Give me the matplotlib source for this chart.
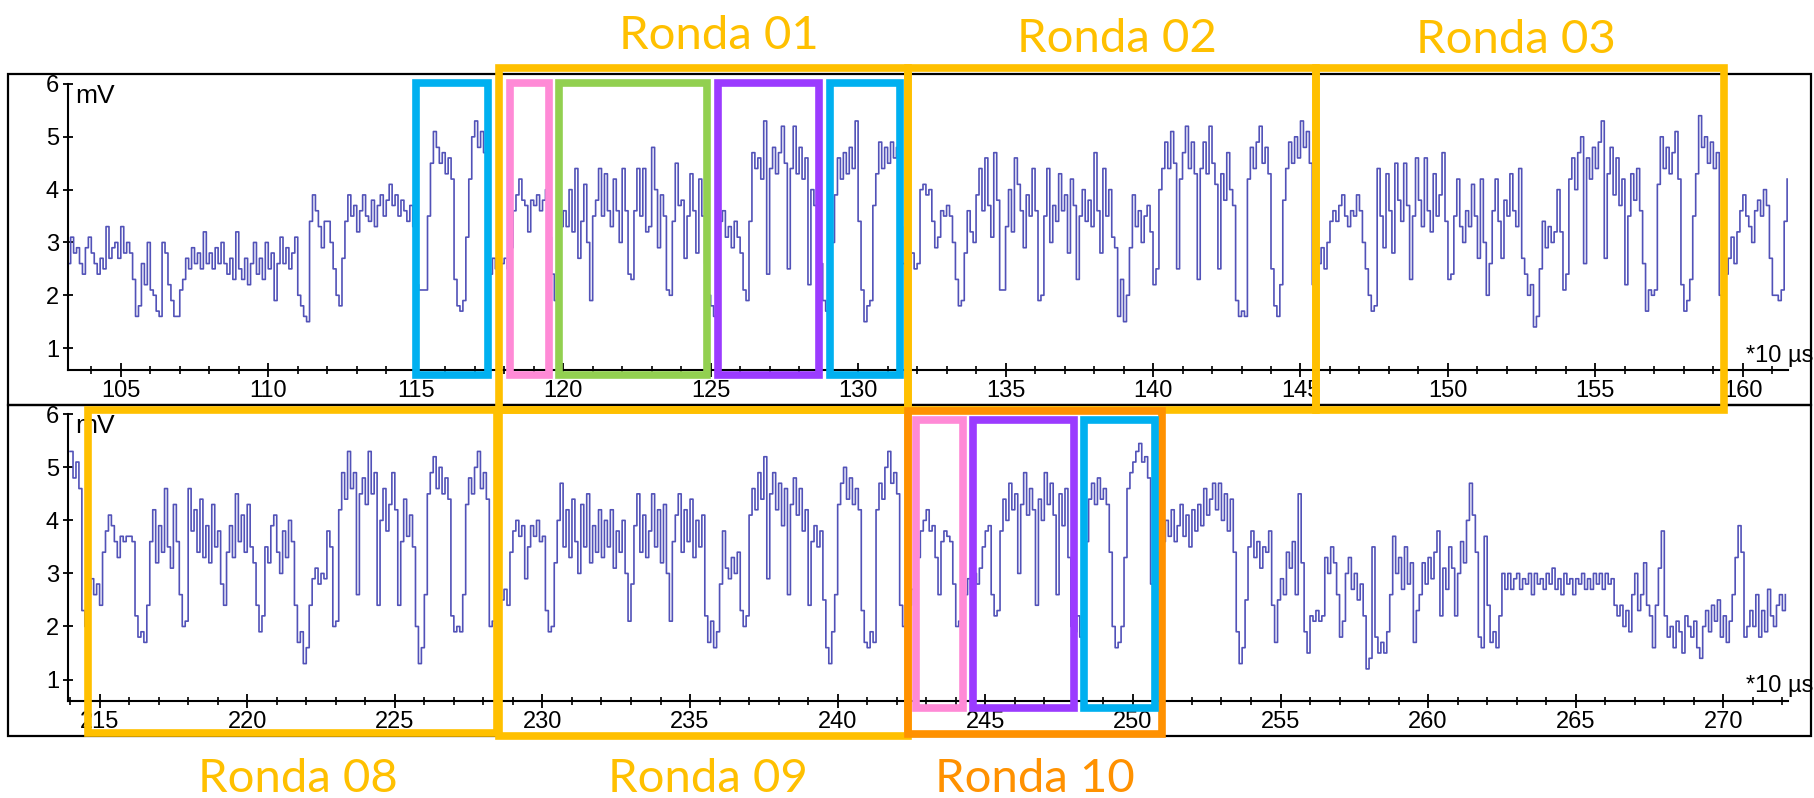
import numpy as np
import matplotlib.pyplot as plt
from matplotlib.patches import Rectangle
from matplotlib.ticker import MultipleLocator
from matplotlib.transforms import blended_transform_factory

# both traces: one sample every 0.1 (*10 us)
STEP = 0.1
top_start = 103.2
top_mv = [
    2.6, 3.1, 2.8, 2.9, 2.6, 2.4, 2.9, 3.1,
    2.8, 2.6, 2.4, 2.7, 2.5, 3.3, 2.7, 2.9, 3.0, 2.7,
    3.3, 2.8, 3.0, 2.8, 2.3, 1.6, 1.8, 2.6, 2.2, 3.0,
    2.1, 2.0, 1.7, 1.6, 3.0, 2.8, 2.2, 1.9, 1.6, 1.6,
    2.1, 2.3, 2.7, 2.5, 2.9, 2.6, 2.8, 2.5, 3.2, 2.6,
    2.8, 2.5, 2.9, 2.6, 3.0, 2.6, 2.4, 2.7, 2.3, 3.2,
    2.5, 2.3, 2.7, 2.2, 2.6, 3.0, 2.4, 2.7, 2.3, 3.0,
    2.5, 2.8, 1.9, 2.6, 3.1, 2.6, 2.9, 2.5, 2.8, 3.1,
    2.0, 1.8, 1.6, 1.5, 3.4, 3.9, 3.6, 3.3, 2.9, 3.4,
    3.4, 3.0, 2.5, 2.0, 1.8, 2.7, 3.4, 3.9, 3.5, 3.7,
    3.2, 3.6, 3.9, 3.5, 3.4, 3.8, 3.3, 3.7, 3.9, 3.5,
    3.8, 4.1, 3.7, 3.9, 3.5, 3.8, 3.6, 3.4, 3.7, 3.3,
    2.2, 2.1, 2.1, 2.1, 3.5, 4.5, 5.1, 4.8, 4.5, 4.7,
    4.3, 4.6, 4.2, 2.3, 1.8, 1.7, 1.9, 3.1, 4.2, 5.0,
    5.3, 4.8, 5.1, 4.7, 3.0, 2.4, 2.7, 2.5, 2.1, 2.6,
    2.7, 2.5, 2.9, 3.6, 3.9, 4.2, 3.8, 3.7, 3.2, 3.8,
    3.7, 3.9, 3.6, 3.8, 4.0, 3.1, 2.4, 1.9, 2.5, 3.3,
    3.6, 3.3, 4.0, 3.2, 4.4, 2.7, 3.4, 4.1, 3.0, 1.9,
    3.5, 3.8, 4.4, 3.5, 4.3, 3.6, 3.3, 4.2, 3.6, 3.0,
    4.4, 3.6, 2.4, 2.3, 3.6, 4.4, 3.5, 4.4, 3.2, 3.3,
    4.8, 4.0, 2.9, 3.9, 3.5, 2.1, 2.0, 3.4, 4.5, 3.7,
    3.8, 2.7, 3.5, 4.3, 3.6, 2.8, 4.2, 3.5, 2.6, 2.0,
    1.8, 1.6, 2.6, 3.4, 3.6, 3.1, 3.3, 2.9, 3.4, 3.1,
    2.8, 2.1, 1.9, 3.4, 4.7, 4.4, 4.6, 4.2, 5.3, 2.4,
    4.4, 4.8, 4.3, 4.7, 5.2, 4.5, 2.5, 4.4, 5.2, 4.3,
    4.8, 4.2, 4.6, 2.2, 4.0, 3.7, 4.3, 2.6, 1.9, 1.7,
    2.2, 3.0, 3.9, 4.6, 4.2, 4.7, 4.3, 4.8, 4.4, 5.3,
    3.4, 2.1, 1.5, 1.8, 1.9, 3.7, 4.3, 4.9, 4.4, 4.8,
    4.5, 4.9, 4.6, 4.8, 3.3, 2.6, 2.3, 2.6, 2.8, 2.5,
    2.6, 4.0, 4.1, 3.9, 4.0, 3.4, 2.9, 3.1, 3.6, 3.5,
    3.7, 3.5, 3.0, 2.3, 1.8, 1.9, 2.8, 3.6, 3.2, 3.0,
    3.9, 4.4, 3.6, 4.6, 3.7, 3.1, 4.7, 3.8, 2.1, 2.1,
    3.3, 4.0, 3.2, 4.6, 4.1, 3.6, 2.9, 3.9, 3.5, 4.4,
    3.6, 1.9, 2.0, 3.5, 4.4, 3.0, 3.7, 3.4, 4.3, 3.6,
    3.9, 2.8, 4.2, 3.7, 2.3, 3.5, 4.0, 3.4, 3.8, 3.3,
    4.7, 3.6, 2.8, 4.4, 3.5, 4.0, 3.1, 2.9, 1.6, 2.3,
    1.5, 2.0, 2.9, 3.9, 3.3, 3.6, 3.0, 3.5, 3.7, 3.2,
    2.2, 2.5, 4.0, 4.4, 4.9, 4.4, 5.1, 4.5, 2.5, 4.2,
    4.7, 5.2, 4.4, 4.9, 4.3, 2.3, 4.4, 4.9, 4.3, 5.2,
    4.5, 4.1, 2.5, 4.3, 3.8, 4.7, 4.0, 3.7, 1.9, 1.6,
    1.7, 1.6, 4.2, 4.8, 4.4, 4.9, 5.2, 4.5, 4.8, 4.3,
    2.5, 1.8, 1.6, 2.2, 3.8, 4.4, 4.9, 4.5, 5.0, 4.6,
    5.3, 4.8, 5.1, 4.5, 2.2, 2.4, 2.6, 2.9, 2.5, 3.0,
    3.4, 3.6, 3.4, 3.7, 3.9, 3.5, 3.3, 3.6, 3.5, 3.9,
    3.6, 3.0, 2.5, 2.0, 1.7, 1.8, 4.4, 3.5, 2.9, 4.3,
    3.6, 2.8, 4.5, 3.8, 3.4, 4.5, 3.7, 2.3, 3.5, 4.6,
    3.8, 3.3, 4.6, 3.6, 3.2, 4.3, 3.5, 3.9, 4.7, 3.4,
    2.3, 2.4, 3.5, 4.2, 3.3, 3.0, 3.6, 3.3, 4.1, 3.5,
    2.7, 4.2, 3.0, 2.0, 2.6, 3.6, 4.2, 3.4, 2.7, 3.8,
    3.5, 4.3, 3.6, 3.3, 4.4, 2.7, 2.4, 2.0, 2.2, 1.4,
    1.6, 2.5, 3.4, 2.9, 3.3, 3.0, 3.2, 4.0, 3.2, 2.1,
    2.4, 4.2, 4.6, 4.0, 4.7, 5.0, 2.6, 4.6, 4.2, 4.8,
    4.4, 4.9, 5.3, 2.7, 4.3, 4.8, 3.9, 4.6, 3.7, 4.2,
    2.2, 3.5, 4.3, 3.8, 4.4, 3.6, 2.6, 1.7, 2.1, 2.0,
    2.1, 4.1, 5.0, 4.4, 4.8, 4.3, 4.7, 5.1, 4.2, 2.2,
    1.7, 1.9, 2.3, 3.5, 4.3, 5.4, 4.8, 5.0, 4.5, 4.9,
    4.4, 4.7, 2.0, 2.1, 2.4, 2.7, 3.1, 2.6, 3.2, 3.6,
    3.9, 3.5, 3.3, 3.0, 3.6, 3.8, 3.5, 4.0, 3.7, 2.7,
    2.0, 2.0, 1.9, 2.1, 3.4, 4.2,
]
bottom_start = 214.0
bottom_mv = [
    5.3, 4.8, 5.1, 4.6, 2.3, 2.0, 2.7, 2.9, 2.6, 2.8,
    2.4, 3.4, 3.8, 4.1, 3.9, 3.6, 3.3, 3.7, 3.6, 3.7,
    3.7, 3.6, 2.2, 1.8, 1.9, 1.7, 2.4, 3.6, 4.2, 3.2,
    3.9, 3.4, 4.6, 3.5, 3.1, 4.3, 3.6, 2.6, 2.0, 2.1,
    4.6, 3.8, 4.2, 3.4, 4.4, 3.3, 3.9, 3.2, 4.3, 3.5,
    3.8, 2.8, 2.4, 3.4, 3.9, 3.3, 4.5, 3.6, 4.1, 3.4,
    4.3, 3.5, 3.2, 2.4, 1.9, 2.2, 3.5, 3.2, 3.9, 4.1,
    3.4, 3.0, 3.8, 3.3, 4.0, 3.6, 2.4, 1.7, 1.9, 1.3,
    1.6, 2.4, 2.9, 3.1, 2.8, 3.0, 2.9, 3.8, 3.5, 2.0,
    2.1, 4.2, 4.9, 4.4, 5.3, 4.6, 4.9, 2.6, 4.5, 4.8,
    4.3, 5.3, 4.5, 4.9, 2.4, 4.0, 4.6, 3.8, 4.3, 4.9,
    4.2, 2.4, 3.6, 4.4, 3.7, 4.1, 3.5, 2.0, 1.3, 1.6,
    2.6, 4.5, 4.9, 5.2, 4.6, 5.0, 4.5, 4.8, 4.4, 2.2,
    1.9, 2.0, 1.9, 2.6, 4.3, 4.8, 4.5, 5.0, 5.3, 4.6,
    4.9, 4.4, 2.0, 2.1, 2.5, 2.8, 2.5, 2.7, 2.4, 3.4,
    3.8, 4.0, 3.7, 3.9, 2.9, 3.5, 3.9, 3.7, 4.0, 3.6,
    3.7, 2.3, 1.9, 2.0, 3.2, 4.0, 4.7, 3.5, 4.2, 3.3,
    4.4, 3.6, 3.0, 4.3, 3.5, 4.5, 3.2, 3.9, 3.4, 4.2,
    3.3, 4.0, 3.5, 4.2, 3.1, 3.8, 3.4, 4.0, 3.0, 2.1,
    2.8, 3.9, 4.5, 3.4, 4.1, 3.3, 3.8, 4.5, 3.5, 4.2,
    3.2, 4.3, 3.0, 2.1, 3.6, 4.1, 4.5, 3.4, 4.2, 3.6,
    4.4, 3.3, 4.0, 3.5, 4.1, 2.2, 1.7, 2.1, 1.6, 1.9,
    2.8, 3.8, 3.1, 2.9, 3.3, 3.0, 3.4, 2.3, 2.0, 2.2,
    4.1, 4.6, 4.2, 4.9, 4.4, 5.2, 2.9, 4.5, 4.9, 4.2,
    4.7, 3.9, 4.6, 2.6, 4.3, 4.8, 4.1, 4.6, 3.8, 4.2,
    2.4, 3.6, 3.9, 3.5, 3.8, 2.5, 1.6, 1.3, 1.9, 2.6,
    4.3, 4.7, 5.0, 4.4, 4.8, 4.3, 4.6, 4.2, 2.3, 1.7,
    1.6, 1.9, 1.7, 4.2, 4.7, 4.4, 5.0, 5.3, 4.7, 4.9,
    4.5, 2.4, 2.0, 2.1, 2.4, 2.7, 3.0, 3.3, 3.8, 4.0,
    4.2, 3.8, 3.9, 3.3, 2.6, 3.6, 3.8, 3.7, 3.6, 2.8,
    2.0, 2.1, 2.3, 2.6, 2.9, 2.7, 3.0, 2.8, 3.1, 3.5,
    3.8, 3.9, 2.6, 2.2, 2.3, 3.8, 4.4, 4.0, 4.7, 4.2,
    4.5, 3.0, 4.3, 4.9, 4.1, 4.6, 4.2, 2.4, 4.4, 4.0,
    4.9, 4.3, 4.7, 4.1, 2.6, 4.5, 3.9, 4.6, 3.3, 2.0,
    1.9, 2.2, 1.8, 2.4, 3.6, 4.4, 4.7, 4.3, 4.8, 4.4,
    4.6, 4.3, 3.4, 2.0, 1.6, 1.7, 2.0, 3.3, 4.6, 4.9,
    5.1, 5.3, 5.45, 5.1, 5.2, 4.8, 2.8, 2.0, 2.7, 3.4,
    3.6, 4.0, 3.7, 4.2, 3.6, 3.9, 4.3, 3.7, 4.1, 3.5,
    4.2, 3.8, 4.3, 3.9, 4.6, 4.1, 4.4, 4.7, 4.2, 4.7,
    4.0, 4.5, 3.8, 4.4, 3.4, 1.9, 1.3, 1.6, 2.5, 3.5,
    3.8, 3.3, 3.6, 3.1, 3.5, 3.4, 3.8, 2.4, 1.7, 2.5,
    2.9, 2.6, 3.4, 3.1, 3.6, 2.6, 4.5, 3.2, 1.9, 1.5,
    2.2, 2.1, 2.3, 2.1, 2.2, 3.3, 3.0, 3.5, 3.2, 2.6,
    1.8, 2.1, 3.0, 3.3, 2.7, 3.0, 2.5, 2.8, 2.2, 1.2,
    1.4, 3.5, 1.8, 1.5, 1.7, 1.5, 1.9, 2.6, 3.7, 3.0,
    3.3, 2.7, 3.5, 2.8, 3.2, 1.7, 2.3, 2.6, 3.2, 2.8,
    3.3, 2.9, 3.4, 3.8, 2.2, 3.1, 2.7, 3.5, 3.1, 2.2,
    3.0, 3.6, 3.2, 4.0, 4.7, 4.1, 3.4, 1.8, 1.6, 3.7,
    2.4, 1.7, 1.9, 1.6, 2.2, 3.0, 2.7, 3.0, 2.7, 2.9,
    3.0, 2.7, 2.9, 2.8, 3.0, 2.6, 3.0, 2.8, 2.9, 2.7,
    3.0, 2.8, 3.1, 2.7, 2.9, 2.6, 3.0, 2.8, 2.9, 2.6,
    2.9, 2.8, 3.0, 2.7, 2.9, 2.7, 3.0, 2.8, 3.0, 2.7,
    3.0, 2.8, 2.9, 2.4, 2.2, 2.4, 2.0, 2.3, 1.9, 2.6,
    3.0, 2.3, 2.6, 3.2, 2.4, 2.2, 1.6, 2.4, 3.1, 3.8,
    2.2, 1.8, 2.0, 1.6, 2.1, 1.9, 1.5, 2.2, 2.0, 1.8,
    2.1, 1.6, 1.4, 2.0, 2.3, 1.9, 2.4, 2.1, 2.5, 1.8,
    2.2, 1.7, 2.1, 2.6, 3.3, 3.9, 3.4, 1.8, 2.0, 2.3,
    2.0, 2.6, 1.8, 2.3, 1.9, 2.7, 2.2, 2.0, 2.4, 2.6,
    2.3, 2.6,
]

# annotated intervals (x in *10 us)
top_rounds = [("Ronda 01", 117.83, 131.68), ("Ronda 02", 131.68, 145.54),
              ("Ronda 03", 145.54, 159.35)]
bottom_rounds = [("Ronda 08", 214.60, 228.46), ("Ronda 09", 228.52, 242.37),
                 ("Ronda 10", 242.38, 250.99)]
top_steps = [(115.02, 117.45, "blue"), (118.18, 119.52, "pink"),
             (119.85, 124.88, "green"), (125.24, 128.68, "purple"),
             (129.05, 131.41, "blue")]
bottom_steps = [(242.64, 244.24, "pink"), (244.59, 248.00, "purple"),
                (248.33, 250.75, "blue")]

COLORS = {"blue": "#00B0F0", "pink": "#FF8AD6", "green": "#92D050",
          "purple": "#9B3BFF", "yellow": "#FFC000", "orange": "#FF9100"}
TRACE = "#5252B8"
TICKFONT = ["Liberation Sans Narrow", "Liberation Sans", "DejaVu Sans"]

W, H = 1815, 798
fig = plt.figure(figsize=(W / 100, H / 100), dpi=100)


def fx(px):
    return px / W


def fy(py):
    return 1 - py / H


# panel frames
for y0, y1 in [(74, 405), (405, 736)]:
    fig.add_artist(Rectangle((fx(8.5), fy(y1)), fx(1811) - fx(8.5), fy(y0) - fy(y1),
                             transform=fig.transFigure, fill=False, ec="black", lw=1.6))

ax1 = fig.add_axes([fx(68), fy(370), fx(1788) - fx(68), fy(84) - fy(370)])
ax2 = fig.add_axes([fx(68), fy(701), fx(1788) - fx(68), fy(414.3) - fy(701)])

panels = [(ax1, top_start, top_mv, (103.21, 161.53), 0.585),
          (ax2, bottom_start, bottom_mv, (213.93, 272.19), 0.595)]
for ax, x0, vals, xl, ybot in panels:
    x = x0 + STEP * np.arange(len(vals))
    ax.step(x, vals, where="post", color=TRACE, lw=1.2)
    ax.set_xlim(*xl)
    ax.set_ylim(ybot, 6.0)
    ax.patch.set_alpha(0)
    for s in ["top", "right"]:
        ax.spines[s].set_visible(False)
    for s in ["left", "bottom"]:
        ax.spines[s].set_linewidth(1.5)
    ax.xaxis.set_major_locator(MultipleLocator(5))
    ax.xaxis.set_minor_locator(MultipleLocator(1))
    ax.set_yticks([1, 2, 3, 4, 5, 6])
    ax.tick_params(axis="x", which="major", direction="inout", length=10, width=1.3, pad=2)
    ax.tick_params(axis="x", which="minor", direction="inout", length=6, width=1.2)
    ax.tick_params(axis="y", direction="inout", length=7, width=1.3, pad=3)
    for lab in ax.get_xticklabels() + ax.get_yticklabels():
        lab.set_family(TICKFONT)
        lab.set_fontsize(17)

for py in [96, 426]:
    fig.text(fx(75), fy(py), "mV", ha="left", va="center", fontsize=19, family=TICKFONT)
for py in [362, 692]:
    fig.text(fx(1813), fy(py), "*10 µs", ha="right", va="baseline", fontsize=17,
             family=TICKFONT)


def box(ax, xa, xb, ytop, ybot, color, lw=5.5):
    tr = blended_transform_factory(ax.transData, fig.transFigure)
    r = Rectangle((xa, fy(ybot)), xb - xa, fy(ytop) - fy(ybot), transform=tr,
                  fill=False, ec=color, lw=lw, joinstyle="miter", clip_on=False, zorder=10)
    fig.add_artist(r)


for name, xa, xb in top_rounds:
    box(ax1, xa, xb, 67.7, 410, COLORS["yellow"])
for xa, xb, c in top_steps:
    box(ax1, xa, xb, 82.7, 375, COLORS[c])
bottom_y = {"Ronda 08": (410, 733), "Ronda 09": (410, 736), "Ronda 10": (410.7, 734)}
for name, xa, xb in bottom_rounds:
    c = COLORS["orange"] if name == "Ronda 10" else COLORS["yellow"]
    box(ax2, xa, xb, bottom_y[name][0], bottom_y[name][1], c)
for xa, xb, c in bottom_steps:
    box(ax2, xa, xb, 419.7, 707.7, COLORS[c])

# round labels
labels = [("Ronda 01", 719, 49, "yellow"), ("Ronda 02", 1117, 52, "yellow"),
          ("Ronda 03", 1516, 53, "yellow"), ("Ronda 08", 298, 792, "yellow"),
          ("Ronda 09", 708, 792, "yellow"), ("Ronda 10", 1035, 792, "orange")]
for txt, px, py, c in labels:
    fig.text(fx(px), fy(py), txt, ha="center", va="baseline", fontsize=34,
             family="Lato", color=COLORS[c])

fig.savefig("out.png", dpi=100)
